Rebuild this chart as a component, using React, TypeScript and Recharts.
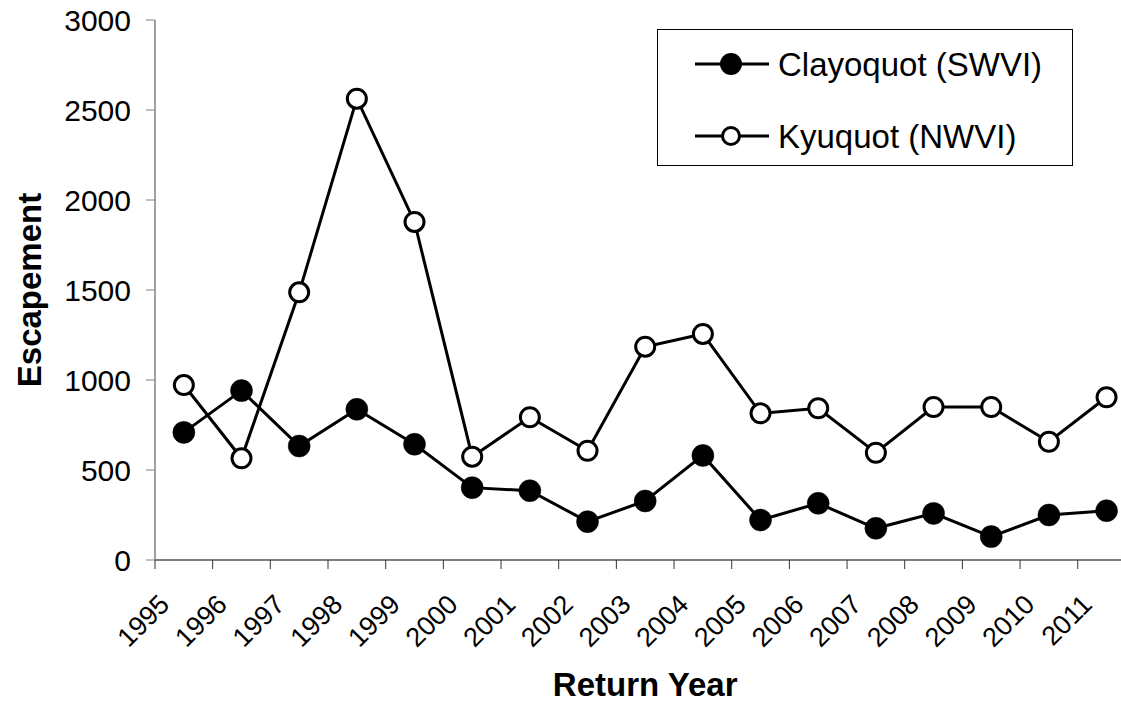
import React from "react";
import { LineChart, Line, XAxis, YAxis, Legend, Label } from "recharts";

const returnYears = [1995, 1996, 1997, 1998, 1999, 2000, 2001, 2002, 2003, 2004, 2005, 2006, 2007, 2008, 2009, 2010, 2011];
const clayoquot = [709, 941, 633, 837, 643, 402, 385, 213, 328, 581, 222, 315, 176, 259, 130, 250, 274];
const kyuquot = [972, 565, 1487, 2563, 1878, 574, 793, 607, 1185, 1256, 815, 843, 596, 850, 850, 657, 904];
const yTicks = [0, 500, 1000, 1500, 2000, 2500, 3000];
const xTicks = returnYears;
const seriesNames = ["Clayoquot (SWVI)", "Kyuquot (NWVI)"];

const data = returnYears.map((yr, i) => ({
  x: yr + 0.5,
  clayoquot: clayoquot[i],
  kyuquot: kyuquot[i],
}));

const FONT = "Arial, 'Liberation Sans', Helvetica, sans-serif";

const XTick = (props: any) => {
  const { x, y, payload } = props;
  const tx = x + 16;
  const ty = y + 37;
  return (
    <text
      x={tx}
      y={ty}
      transform={`rotate(-45, ${tx}, ${ty})`}
      textAnchor="end"
      fontSize={27}
      fontFamily={FONT}
      fill="#000"
    >
      {payload.value}
    </text>
  );
};

const LegendContent = () => {
  const rows = [
    { name: seriesNames[0], filled: true, cy: 34 },
    { name: seriesNames[1], filled: false, cy: 106 },
  ];
  return (
    <div
      style={{
        width: 416,
        height: 137,
        border: "1px solid #000",
        boxSizing: "border-box",
        background: "#fff",
      }}
    >
      <svg width={414} height={135} style={{ display: "block" }}>
        {rows.map((r) => (
          <g key={r.name}>
            <line x1={37} x2={111} y1={r.cy} y2={r.cy} stroke="#000" strokeWidth={3} />
            {r.filled ? (
              <circle cx={73} cy={r.cy} r={11} fill="#000" />
            ) : (
              <circle cx={73} cy={r.cy} r={8.5} fill="#fff" stroke="#000" strokeWidth={3} />
            )}
            <text x={120} y={r.cy + 12} fontSize={33} fontFamily={FONT} fill="#000">
              {r.name}
            </text>
          </g>
        ))}
      </svg>
    </div>
  );
};

export default function App() {
  return (
    <div
      style={{
        position: "absolute",
        left: 0,
        top: 0,
        width: 1121,
        height: 704,
        overflow: "hidden",
        background: "#fff",
        fontFamily: FONT,
      }}
    >
      <LineChart
        width={1150}
        height={704}
        data={data}
        margin={{ top: 20, right: 14.6, left: 0, bottom: 0 }}
      >
        <XAxis
          type="number"
          dataKey="x"
          domain={[1995, 2012]}
          ticks={xTicks}
          interval={0}
          height={144}
          tickSize={9}
          tickMargin={0}
          tick={<XTick />}
          tickLine={{ stroke: "#333", strokeWidth: 1 }}
          axisLine={{ stroke: "#000", strokeWidth: 1.2 }}
        >
          <Label
            content={(p: any) => {
              const vb = p.viewBox || {};
              const cx = (vb.x ?? 155) + (vb.width ?? 980) / 2;
              return (
                <text
                  x={cx}
                  y={696}
                  textAnchor="middle"
                  fontSize={33}
                  fontWeight="bold"
                  fontFamily={FONT}
                  fill="#000"
                >
                  Return Year
                </text>
              );
            }}
          />
        </XAxis>
        <YAxis
          type="number"
          domain={[0, 3000]}
          ticks={yTicks}
          interval={0}
          width={155}
          tickSize={9}
          tickMargin={15}
          tick={{ fontSize: 30, fill: "#000", fontFamily: FONT }}
          tickLine={{ stroke: "#808080", strokeWidth: 1 }}
          axisLine={{ stroke: "#808080", strokeWidth: 1.5 }}
        >
          <Label
            content={(p: any) => {
              const vb = p.viewBox || {};
              const cy = (vb.y ?? 20) + (vb.height ?? 540) / 2;
              return (
                <text
                  x={41}
                  y={cy}
                  transform={`rotate(-90, 41, ${cy})`}
                  textAnchor="middle"
                  fontSize={33}
                  fontWeight="bold"
                  fontFamily={FONT}
                  fill="#000"
                >
                  Escapement
                </text>
              );
            }}
          />
        </YAxis>
        <Legend
          layout="vertical"
          align="center"
          verticalAlign="middle"
          content={<LegendContent />}
          wrapperStyle={{ position: "absolute", left: 657, top: 29, width: 416, height: 137, margin: 0 }}
        />
        <Line
          type="linear"
          dataKey="clayoquot"
          name={seriesNames[0]}
          stroke="#000"
          strokeWidth={3}
          dot={{ r: 11, fill: "#000", stroke: "#000", strokeWidth: 0.5 }}
          activeDot={false}
          isAnimationActive={false}
        />
        <Line
          type="linear"
          dataKey="kyuquot"
          name={seriesNames[1]}
          stroke="#000"
          strokeWidth={3}
          dot={{ r: 9.5, fill: "#fff", stroke: "#000", strokeWidth: 3 }}
          activeDot={false}
          isAnimationActive={false}
        />
      </LineChart>
    </div>
  );
}
